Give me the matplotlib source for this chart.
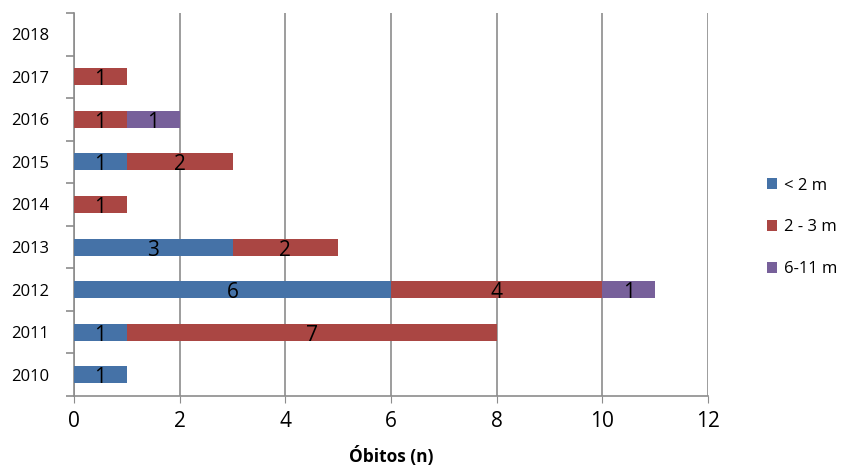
import matplotlib.pyplot as plt
import numpy as np
from matplotlib.ticker import FixedLocator

# === DATA ===
years = ["2010", "2011", "2012", "2013", "2014", "2015", "2016", "2017", "2018"]
under_2m = [1, 1, 6, 3, 0, 1, 0, 0, 0]
m2_3 = [0, 7, 4, 2, 1, 2, 1, 1, 0]
m6_11 = [0, 0, 1, 0, 0, 0, 1, 0, 0]

series_names = ["< 2 m", "2 - 3 m", "6-11 m"]
series_values = [under_2m, m2_3, m6_11]
colors = ["#4572A7", "#AA4643", "#77609A"]

plt.rcParams["font.family"] = ["Open Sans", "DejaVu Sans"]

fig = plt.figure(figsize=(8.46, 4.74), dpi=100)
ax = fig.add_axes([74 / 846, 1 - 396 / 474, (708 - 74) / 846, (396 - 13) / 474])

y = np.arange(len(years))
left = np.zeros(len(years))
for name, vals, color in zip(series_names, series_values, colors):
    vals = np.array(vals, dtype=float)
    ax.barh(y, vals, left=left, height=0.4, color=color, label=name, zorder=3)
    for yi, (l, v) in enumerate(zip(left, vals)):
        if v > 0:
            ax.text(l + v / 2, yi - 0.07, f"{int(v)}", ha="center", va="center",
                    fontsize=15, color="black", zorder=4)
    left += vals

ax.set_xlim(0, 12)
ax.set_ylim(-0.5, len(years) - 0.5)
ax.set_xticks(range(0, 13, 2))
ax.set_yticks(y)
ax.set_yticklabels(years)
ax.yaxis.set_minor_locator(FixedLocator(np.arange(-0.5, len(years), 1)))

ax.grid(axis="x", color="#8c8c8c", linewidth=1.2, zorder=0)
for s in ["top", "right"]:
    ax.spines[s].set_visible(False)
for s in ["left", "bottom"]:
    ax.spines[s].set_color("#8c8c8c")
    ax.spines[s].set_linewidth(1.2)

ax.tick_params(axis="x", labelsize=15, length=5, color="#8c8c8c", direction="out", pad=6)
ax.tick_params(axis="y", which="major", labelsize=12, length=0, pad=18)
ax.tick_params(axis="y", which="minor", length=6, color="#8c8c8c", width=1.2)

ax.set_xlabel("Óbitos (n)", fontsize=12.5, fontweight="bold", labelpad=10)

ax.legend(loc="center left", bbox_to_anchor=(1.07, 0.44), frameon=False,
          fontsize=12, handlelength=0.6, handleheight=0.6, handletextpad=0.4,
          labelspacing=1.55)

fig.savefig("out.png", dpi=100)
